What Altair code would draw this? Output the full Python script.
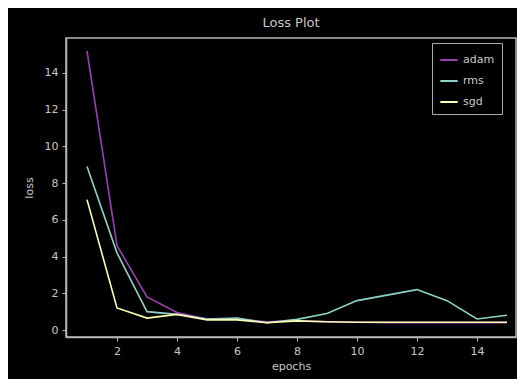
import altair as alt
import pandas as pd

epochs = list(range(1, 16))
adam = [15.2, 4.6, 1.8, 0.95, 0.6, 0.6, 0.45, 0.5, 0.45, 0.42, 0.4, 0.4, 0.4, 0.4, 0.4]
rms = [8.9, 4.2, 1.0, 0.85, 0.6, 0.65, 0.4, 0.58, 0.9, 1.6, 1.9, 2.2, 1.6, 0.6, 0.8]
sgd = [7.1, 1.2, 0.65, 0.85, 0.55, 0.55, 0.4, 0.5, 0.45, 0.42, 0.42, 0.42, 0.42, 0.42, 0.42]
series = ["adam", "rms", "sgd"]
colors = ["#9b3fb5", "#8dd3c7", "#feffb3"]

rows = []
for name, vals in zip(series, [adam, rms, sgd]):
    for e, v in zip(epochs, vals):
        rows.append({"epoch": e, "loss": v, "optimizer": name})
df = pd.DataFrame(rows)

txt = "#c8c8c8"
axis_col = "#b8b8b8"

chart = alt.Chart(df).mark_line(strokeWidth=1.6).encode(
    x=alt.X("epoch:Q", title="epochs",
            scale=alt.Scale(domain=[0.3, 15.3], nice=False, zero=False),
            axis=alt.Axis(values=[2, 4, 6, 8, 10, 12, 14], grid=False)),
    y=alt.Y("loss:Q", title="loss",
            scale=alt.Scale(domain=[-0.38, 15.9], nice=False, zero=False),
            axis=alt.Axis(values=[0, 2, 4, 6, 8, 10, 12, 14], grid=False)),
    color=alt.Color("optimizer:N", title=None,
                    scale=alt.Scale(domain=series, range=colors),
                    legend=alt.Legend(orient="none", legendX=366, legendY=5,
                                      symbolType="stroke", symbolStrokeWidth=2,
                                      symbolSize=300, fillColor="black",
                                      strokeColor="#aaaaaa", padding=7,
                                      labelColor=txt, labelFontSize=11,
                                      labelFont="DejaVu Sans", rowPadding=6)),
).properties(
    width=450, height=299,
    title=alt.Title("Loss Plot", color=txt, fontSize=13, font="DejaVu Sans",
                    fontWeight="normal", offset=8),
    background="black",
    padding={"left": 58, "top": 30, "right": 1, "bottom": 42},
    autosize=alt.AutoSizeParams(type="none"),
).configure_view(
    stroke=axis_col, strokeWidth=1.5, fill="black"
).configure_axis(
    domainColor=axis_col, tickColor=axis_col, labelColor=txt, titleColor=txt,
    labelFont="DejaVu Sans", titleFont="DejaVu Sans", labelFontSize=11,
    titleFontSize=11, titleFontWeight="normal", tickSize=4, domainWidth=1.5,
    labelPadding=4
).configure_axisY(titlePadding=10).configure_axisX(titlePadding=4)

chart.save("out.html", embed_options={"renderer": "svg", "actions": False})
